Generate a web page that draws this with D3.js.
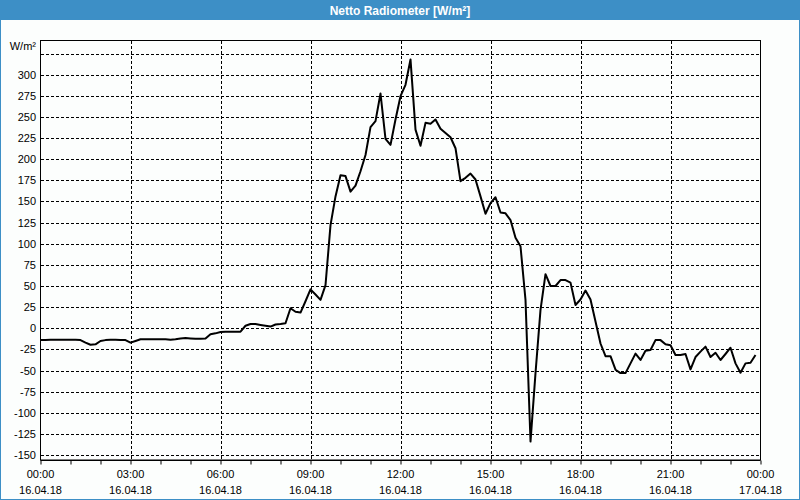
<!DOCTYPE html>
<html><head><meta charset="utf-8">
<script src="https://cdn.jsdelivr.net/npm/d3@7"></script>
<style>body{margin:0;padding:0;background:#fcfefd;} svg{display:block;}</style>
</head><body>
<script>
const title = "Netto Radiometer [W/m²]";
const unitLabel = "W/m²";
const startTime = "2018-04-16T00:00:00";
const endTime = "2018-04-17T00:00:00";
const stepMinutes = 10;
// Net radiation values, one every 10 minutes from 00:00 (W/m²)
const values = [
 -14,-14,-13.5,-13.5,-13.5,-13.5,-13.5,-13.5,-14,-17,
 -19.5,-19,-15,-14,-13.5,-13.5,-14,-14,-17,-15,
 -13,-13,-13,-13,-13,-13,-13.5,-13,-12,-11.5,
 -12,-12.5,-12.5,-12,-7,-6,-4.5,-4,-4,-4,
 -4,3,5,5,4,3,2,4.5,5,6,
 23.7,19.5,18.6,32,46,40,33.6,51,122,156,
 181,180,161.6,168.7,185.7,205,238,245,277.7,224,
 217,247,274.5,288,318,235,216,243,242,247,
 236,231,226,213,174,178,183,176,156,135.5,
 148,155,137,136,128,107,97,33.6,-134,-53,
 21.7,64,50,50,57,57,54,27.6,34,44.6,
 34,8,-18,-33,-33,-49,-53,-53,-41.5,-30,
 -37.5,-26.5,-25.7,-14,-14,-19,-20,-31.6,-31.6,-30.4,
 -48.6,-34,-27.6,-21.7,-34,-29,-37.5,-30.4,-23,-41.5,
 -52.5,-41.5,-40.7,-31.6
];
const yTickValues = [-150,-125,-100,-75,-50,-25,0,25,50,75,100,125,150,175,200,225,250,275,300];
const yGridValues = [-150,-125,-100,-75,-50,-25,0,25,50,75,100,125,150,175,200,225,250,275,300,325];
const yDomain = [-155.8, 341];

const W = 800, H = 500;
const svg = d3.select("body").append("svg").attr("width", W).attr("height", H)
  .style("font-family", "'Liberation Sans', Arial, sans-serif");

// window frame
svg.append("rect").attr("x",0.5).attr("y",0.5).attr("width",W-1).attr("height",H-1)
  .attr("fill","#fcfefd").attr("stroke","#3d8fc6").attr("stroke-width",1);
svg.append("rect").attr("x",0).attr("y",0).attr("width",W).attr("height",20).attr("fill","#3d8fc6");
svg.append("text").attr("x",400).attr("y",14.5).attr("text-anchor","middle")
  .attr("fill","#ffffff").attr("font-weight","bold").attr("font-size","12px").text(title);

const parse = d3.isoParse;
const t0 = parse(startTime), t1 = parse(endTime);
const data = values.map((v,i) => ({t: d3.timeMinute.offset(t0, i*stepMinutes), v}));

const x = d3.scaleTime().domain([t0,t1]).range([40.5, 760.5]);
const y = d3.scaleLinear().domain(yDomain).range([460, 40]);

const snap = v => Math.round(v) + 0.5;

// horizontal grid
svg.append("g").selectAll("line").data(yGridValues).join("line")
  .attr("x1", 41).attr("x2", 760).attr("y1", d=>snap(y(d))).attr("y2", d=>snap(y(d)))
  .attr("stroke","#000").attr("stroke-width",1).attr("stroke-dasharray","3,2");
// vertical grid every 3 hours
const vTicks = d3.timeHour.every(3).range(d3.timeHour.offset(t0,3), t1);
svg.append("g").selectAll("line").data(vTicks).join("line")
  .attr("x1", d=>snap(x(d))).attr("x2", d=>snap(x(d))).attr("y1", 41).attr("y2", 460)
  .attr("stroke","#000").attr("stroke-width",1).attr("stroke-dasharray","3,2");

// frame
svg.append("rect").attr("x",40.5).attr("y",40.5).attr("width",720).attr("height",419.5)
  .attr("fill","none").attr("stroke","#000").attr("stroke-width",1);

// y labels
svg.append("g").selectAll("text").data(yTickValues).join("text")
  .attr("x", 36).attr("y", d=>y(d)+4).attr("text-anchor","end")
  .attr("font-size","11px").attr("fill","#000").text(d=>d);
svg.append("text").attr("x",36).attr("y",50).attr("text-anchor","end")
  .attr("font-size","11px").attr("fill","#000").text(unitLabel);

// x axis
const xAxis = d3.axisBottom(x).ticks(d3.timeHour.every(1)).tickSize(4).tickFormat("");
const gx = svg.append("g").attr("transform","translate(0,460)").call(xAxis);
gx.select(".domain").attr("stroke","#000").attr("d","M40.5,0.5H760.5");
gx.selectAll(".tick line").attr("stroke","#000").attr("transform","translate(0,0.5)");
const labTicks = d3.timeHour.every(3).range(t0, d3.timeHour.offset(t1,1));
const fmtTime = d3.timeFormat("%H:%M"), fmtDate = d3.timeFormat("%d.%m.%y");
const lab = svg.append("g").selectAll("g").data(labTicks).join("g")
  .attr("transform", d=>`translate(${x(d)},0)`);
lab.append("text").attr("y",478).attr("text-anchor","middle").attr("font-size","11px").text(d=>fmtTime(d));
lab.append("text").attr("y",494).attr("text-anchor","middle").attr("font-size","11px").text(d=>fmtDate(d));

// data line
svg.append("path").datum(data)
  .attr("d", d3.line().x(d=>x(d.t)).y(d=>y(d.v)))
  .attr("fill","none").attr("stroke","#000").attr("stroke-width",2).attr("stroke-linejoin","round");
</script>
</body></html>
